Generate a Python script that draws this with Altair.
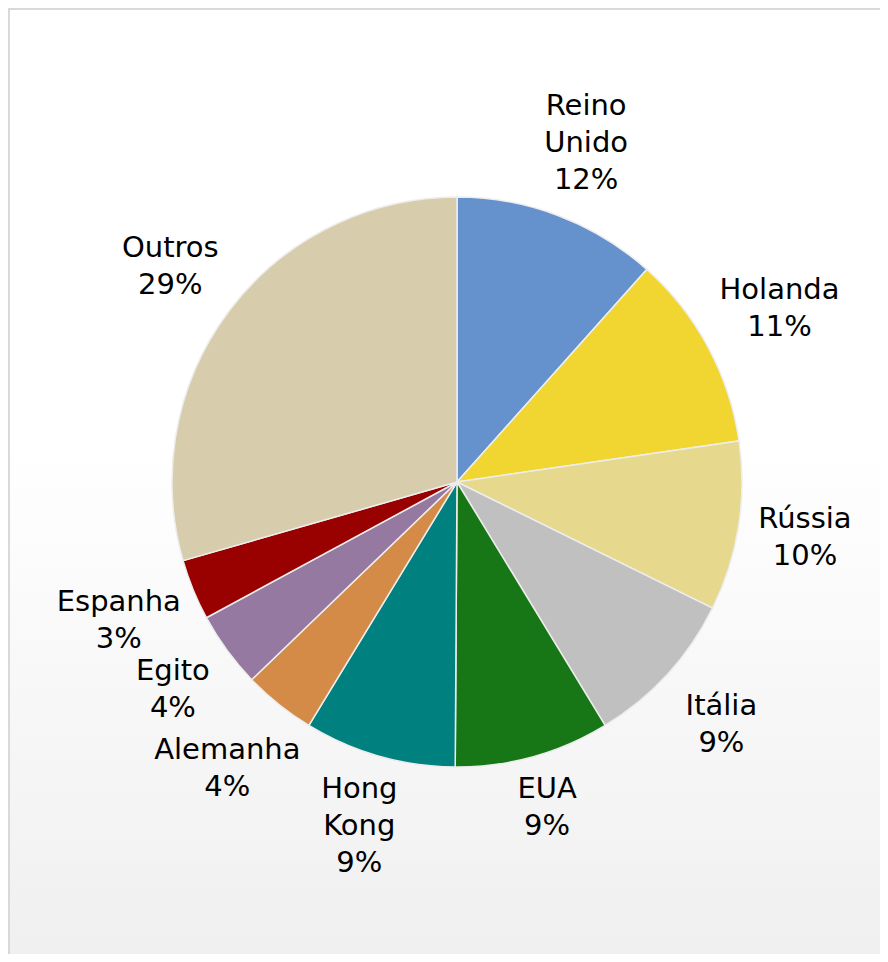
import altair as alt
import pandas as pd

countries = ["Reino Unido", "Holanda", "Rússia", "Itália", "EUA",
             "Hong Kong", "Alemanha", "Egito", "Espanha", "Outros"]
label_names = ["Reino\nUnido", "Holanda", "Rússia", "Itália", "EUA",
               "Hong\nKong", "Alemanha", "Egito", "Espanha", "Outros"]
shares = [11.6, 11.1, 9.6, 9.0, 8.8, 8.6, 4.1, 4.3, 3.45, 29.45]
colors = ["#6592CD", "#F1D531", "#E6D88C", "#C0C0C0", "#177717",
          "#018080", "#D58B48", "#9679A0", "#990000", "#D7CDAD"]

total = sum(shares)
rotulos = [f"{n}\n{round(s / total * 100)}%" for n, s in zip(label_names, shares)]

df = pd.DataFrame({
    "pais": countries,
    "share": shares,
    "ordem": list(range(len(countries))),
    "rotulo": rotulos,
    "linhas": [r.count("\n") + 1 for r in rotulos],
    "chars": [max(len(p) for p in r.split("\n")) for r in rotulos],
})

W, H = 872, 946
CX, CY = 449, 474
R_PIE = 285
GAP = 10
LH = 37
FS = 29

background = alt.Chart(pd.DataFrame({"a": [0]})).mark_rect(
    fill=alt.Gradient(
        gradient="linear",
        stops=[alt.GradientStop(color="#FFFFFF", offset=0),
               alt.GradientStop(color="#FFFFFF", offset=0.45),
               alt.GradientStop(color="#F0EFEF", offset=1)],
        x1=0, x2=0, y1=0, y2=1,
    ),
    stroke="#D9D9D9",
    strokeWidth=2,
).encode(
    x=alt.value(1), x2=alt.value(W + 20),
    y=alt.value(1), y2=alt.value(H + 20),
)

pie = alt.Chart(df).mark_arc(outerRadius=R_PIE, stroke="#EDEDED", strokeWidth=1.5).encode(
    theta=alt.Theta("share:Q", stack=True, scale=alt.Scale(domain=[0, total])),
    order=alt.Order("ordem:Q"),
    color=alt.Color("pais:N", scale=alt.Scale(domain=countries, range=colors),
                    legend=None),
    x=alt.value(CX),
    y=alt.value(CY),
)

label_base = alt.Chart(df).transform_window(
    acum="sum(share)", sort=[alt.SortField("ordem")],
).transform_calculate(
    meio="datum.acum - datum.share / 2",
    ang=f"(datum.acum - datum.share / 2) / {total} * 2 * PI",
).transform_calculate(
    raio=(f"{R_PIE + GAP} + datum.chars * {FS * 0.3} * abs(sin(datum.ang))"
          f" + datum.linhas * {LH / 2} * abs(cos(datum.ang))"),
).encode(
    theta=alt.Theta("meio:Q", scale=alt.Scale(domain=[0, total])),
    radius=alt.Radius("raio:Q", scale=None),
    text="rotulo:N",
    x=alt.value(CX),
    y=alt.value(CY),
)

text_style = dict(fontSize=FS, font="DejaVu Sans", lineHeight=LH,
                  lineBreak="\n", baseline="middle", align="center", color="#000000")

labels2 = label_base.transform_filter("datum.linhas == 2").mark_text(
    dy=-LH / 2, **text_style)
labels3 = label_base.transform_filter("datum.linhas == 3").mark_text(
    dy=-LH, **text_style)

chart = alt.layer(background, pie, labels2, labels3).properties(
    width=W, height=H, padding=0,
    autosize=alt.AutoSizeParams(type="none"),
).configure_view(stroke=None)

chart.save("out.html", embed_options={"renderer": "svg", "actions": False})
